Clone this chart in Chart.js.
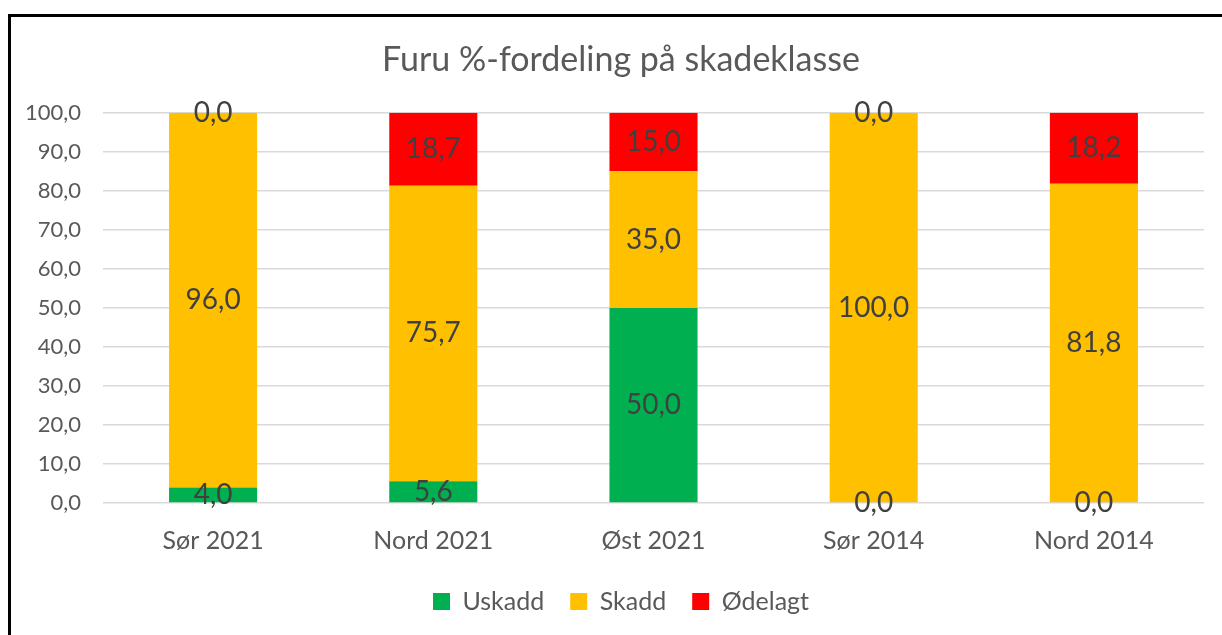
<!DOCTYPE html>
<html>
<head>
<meta charset="utf-8">
<script src="https://cdn.jsdelivr.net/npm/chart.js@4/dist/chart.umd.min.js"></script>
<style>
html,body{margin:0;padding:0;background:#fff;overflow:hidden;}
#frame{position:absolute;left:8px;top:14px;width:1240px;height:660px;border-left:3px solid #000;border-top:3px solid #000;}
#wrap{position:absolute;left:0;top:0;width:1242px;height:635px;}
</style>
</head>
<body>
<div id="frame"></div>
<div id="wrap"><canvas id="chart"></canvas></div>
<script>
const categories = ["Sør 2021","Nord 2021","Øst 2021","Sør 2014","Nord 2014"];
const uskadd = [4.0, 5.6, 50.0, 0.0, 0.0];
const skadd = [96.0, 75.7, 35.0, 100.0, 81.8];
const odelagt = [0.0, 18.7, 15.0, 0.0, 18.2];

const FONT = "Lato, 'Open Sans', sans-serif";
const fmt = v => v.toFixed(1).replace(".", ",");

// labels in the middle of each segment
const valueLabels = {
id:"valueLabels",
afterDatasetsDraw(chart){
const ctx = chart.ctx;
ctx.save();
ctx.font = "28px " + FONT;
ctx.fillStyle = "#404040";
ctx.textAlign = "center";
ctx.textBaseline = "middle";
chart.data.datasets.forEach((ds, i) => {
chart.getDatasetMeta(i).data.forEach((bar, j) => {
const c = bar.getCenterPoint();
ctx.fillText(fmt(ds.data[j]), c.x, c.y);
});
});
ctx.restore();
}
};

new Chart(document.getElementById("chart"),{
type:"bar",
data:{
labels:categories,
datasets:[
{label:"Uskadd",data:uskadd,backgroundColor:"#00B050"},
{label:"Skadd",data:skadd,backgroundColor:"#FFC000"},
{label:"Ødelagt",data:odelagt,backgroundColor:"#FF0000"}
]
},
options:{
responsive:true,
maintainAspectRatio:false,
animation:false,
layout:{padding:{left:0,right:0,top:0,bottom:11}},
datasets:{bar:{categoryPercentage:1,barPercentage:0.4}},
plugins:{
title:{
display:true,
text:"Furu %-fordeling på skadeklasse",
color:"#595959",
font:{family:FONT,size:34,weight:"normal"},
padding:{top:40,bottom:32}
},
legend:{
position:"bottom",
labels:{
color:"#595959",
font:{family:FONT,size:25},
boxWidth:17,
boxHeight:17,
padding:26
}
},
tooltip:{enabled:false}
},
scales:{
x:{
stacked:true,
grid:{display:false},
border:{display:false},
ticks:{color:"#595959",font:{family:FONT,size:25},padding:15},
afterFit(scale){scale.height = 60;}
},
y:{
stacked:true,
min:0,
max:100,
ticks:{
stepSize:10,
color:"#595959",
font:{family:FONT,size:22},
padding:22,
callback:v => fmt(v)
},
grid:{color:"#d9d9d9",lineWidth:1.5,drawTicks:false},
border:{display:false},
afterFit(scale){scale.width = 103;}
},
// empty right axis, only keeps space so the title sits like the original
yRight:{
position:"right",
grid:{display:false},
border:{display:false},
ticks:{display:false},
afterFit(scale){scale.width = 38;}
}
}
},
plugins:[valueLabels]
});
</script>
</body>
</html>
